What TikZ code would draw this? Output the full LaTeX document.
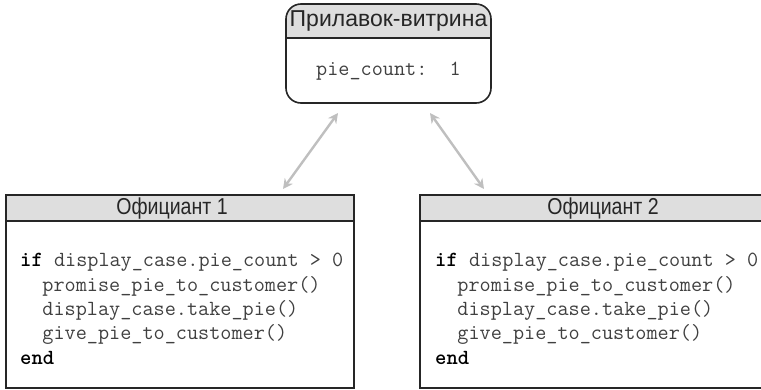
\documentclass[tikz,border=0pt]{standalone}
\usepackage{fontspec}
\setmainfont{Liberation Sans}
\usetikzlibrary{arrows.meta}
\begin{document}
\begin{tikzpicture}[x=1pt,y=-1pt,
  frame/.style={draw=black!85, line width=1.6pt},
  headfill/.style={fill=black!13},
  title/.style={font=\fontsize{23}{26}\selectfont, text=black!85, inner sep=0pt},
  code/.style={font=\fontsize{21.6}{24.3}\selectfont\ttfamily, text=black!75,
    align=left, inner sep=0pt, anchor=base west},
  boxarea/.style={anchor=north west, inner sep=0pt, outer sep=0pt},
  link/.style={draw=black!25, line width=2.4pt,
    {Stealth[length=10pt,width=10pt]}-{Stealth[length=10pt,width=10pt]}}
]
\useasboundingbox (0,0) rectangle (761,389);

% shared display case
\node[boxarea, minimum width=205pt, minimum height=99pt] (case) at (286,4) {};
\begin{scope}
  \clip[rounded corners=15pt] (case.north west) rectangle (case.south east);
  \fill[headfill] (case.north west) rectangle (491,38);
\end{scope}
\draw[frame] (286,38) -- (491,38);
\draw[frame, rounded corners=15pt] (case.north west) rectangle (case.south east);
\node[title] (casetitle) at (388.5,21) {Прилавок-витрина};
\node[code, anchor=base] (count) at (388.5,75) {pie\_count:\ \ 1};

% waiter 1 (the last line of a code block sits on the node's base)
\node[boxarea, minimum width=348pt, minimum height=193pt] (w1) at (6,195) {};
\fill[headfill] (6,195) rectangle (354,221);
\draw[frame] (6,221) -- (354,221);
\draw[frame] (w1.north west) rectangle (w1.south east);
\node[title, xscale=0.85] (w1title) at (172,209) {Официант 1};
\node[code] (w1code) at (20,364) {\textbf{\color{black}if} display\_case.pie\_count > 0\\
\ \ promise\_pie\_to\_customer()\\
\ \ display\_case.take\_pie()\\
\ \ give\_pie\_to\_customer()\\
\textbf{\color{black}end}};

% waiter 2
\node[boxarea, minimum width=348pt, minimum height=193pt] (w2) at (420,195) {};
\fill[headfill] (420,195) rectangle (768,221);
\draw[frame] (420,221) -- (768,221);
\draw[frame] (w2.north west) rectangle (w2.south east);
\node[title, xscale=0.85] (w2title) at (603,209) {Официант 2};
\node[code] (w2code) at (435,364) {\textbf{\color{black}if} display\_case.pie\_count > 0\\
\ \ promise\_pie\_to\_customer()\\
\ \ display\_case.take\_pie()\\
\ \ give\_pie\_to\_customer()\\
\textbf{\color{black}end}};

% access arrows
\coordinate (a1) at (338,113);
\coordinate (b1) at (283,189);
\coordinate (a2) at (430,113);
\coordinate (b2) at (484,189);
\draw[link] (a1) -- (b1);
\draw[link] (a2) -- (b2);
\end{tikzpicture}
\end{document}
